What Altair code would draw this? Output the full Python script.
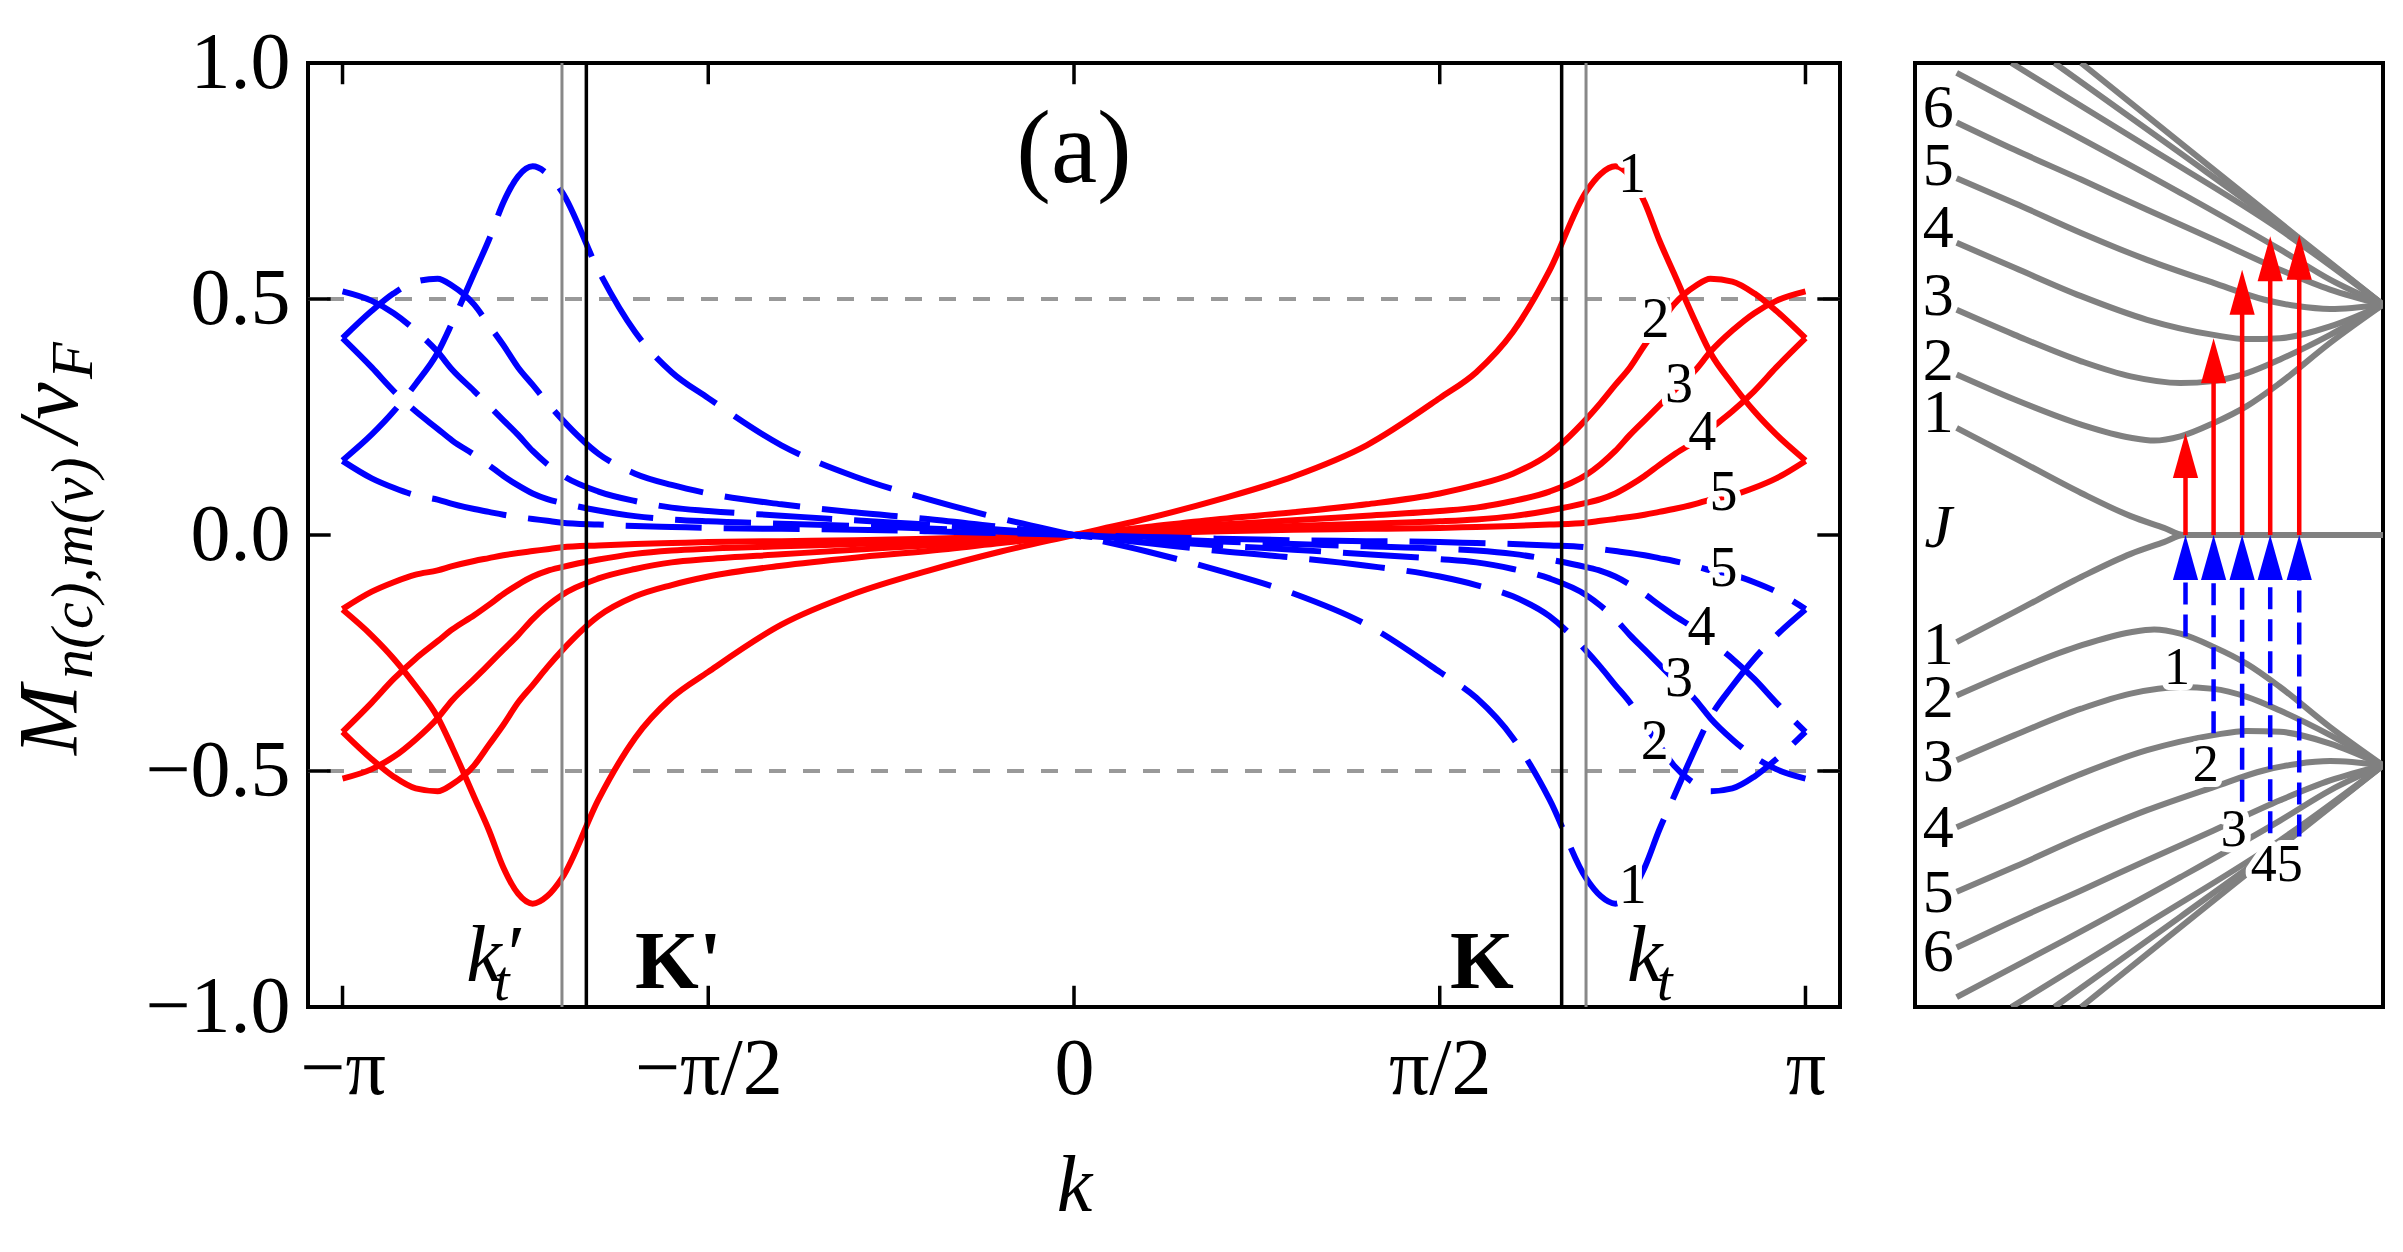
import altair as alt
import pandas as pd

FONT = "Liberation Serif"
RED = "#ff0000"
BLUE = "#0000ff"
GRAY = "#808080"

# ---------------- left panel: M_{n,m}(k)/v_F, k in units of pi ----------------
k_grid = [-1.0, -0.96, -0.93, -0.9, -0.87, -0.85, -0.82, -0.8, -0.78, -0.76, -0.74,
          -0.72, -0.7, -0.65, -0.6, -0.55, -0.5, -0.4, -0.3, -0.2, -0.1,
          0.0, 0.1, 0.2, 0.3, 0.4, 0.5, 0.55, 0.6, 0.65, 0.7, 0.72, 0.74, 0.76,
          0.78, 0.8, 0.82, 0.85, 0.87, 0.9, 0.93, 0.96, 1.0]

red_1 = [-0.158, -0.213, -0.262, -0.32, -0.386, -0.45, -0.555, -0.625, -0.705, -0.76, -0.781,
         -0.765, -0.727, -0.56, -0.43, -0.345, -0.29, -0.19, -0.124, -0.076, -0.035,
         0.0, 0.035, 0.076, 0.124, 0.19, 0.29, 0.345, 0.43, 0.56, 0.727, 0.765, 0.781, 0.76,
         0.705, 0.625, 0.555, 0.45, 0.386, 0.32, 0.262, 0.213, 0.158]
red_2 = [-0.417, -0.475, -0.512, -0.537, -0.543, -0.528, -0.488, -0.445, -0.402, -0.355, -0.318,
         -0.28, -0.245, -0.172, -0.13, -0.106, -0.088, -0.065, -0.048, -0.034, -0.017,
         0.0, 0.017, 0.034, 0.048, 0.065, 0.088, 0.106, 0.13, 0.172, 0.245, 0.28, 0.318, 0.355,
         0.402, 0.445, 0.488, 0.528, 0.543, 0.537, 0.512, 0.475, 0.417]
red_3 = [-0.516, -0.496, -0.47, -0.433, -0.388, -0.35, -0.305, -0.274, -0.243, -0.212, -0.178,
         -0.15, -0.127, -0.092, -0.072, -0.058, -0.051, -0.041, -0.031, -0.022, -0.011,
         0.0, 0.011, 0.022, 0.031, 0.041, 0.051, 0.058, 0.072, 0.092, 0.127, 0.15, 0.178, 0.212,
         0.243, 0.274, 0.305, 0.35, 0.388, 0.433, 0.47, 0.496, 0.516]
red_4 = [-0.417, -0.355, -0.305, -0.262, -0.225, -0.2, -0.17, -0.148, -0.125, -0.105, -0.088,
         -0.076, -0.068, -0.052, -0.04, -0.033, -0.029, -0.024, -0.019, -0.014, -0.007,
         0.0, 0.007, 0.014, 0.019, 0.024, 0.029, 0.033, 0.04, 0.052, 0.068, 0.076, 0.088, 0.105,
         0.125, 0.148, 0.17, 0.2, 0.225, 0.262, 0.305, 0.355, 0.417]
red_5 = [-0.157, -0.12, -0.1, -0.084, -0.075, -0.066, -0.055, -0.049, -0.043, -0.038, -0.034,
         -0.03, -0.026, -0.022, -0.019, -0.017, -0.015, -0.013, -0.011, -0.008, -0.004,
         0.0, 0.004, 0.008, 0.011, 0.013, 0.015, 0.017, 0.019, 0.022, 0.026, 0.03, 0.034, 0.038,
         0.043, 0.049, 0.055, 0.066, 0.075, 0.084, 0.1, 0.12, 0.157]

blue_1 = [0.158, 0.213, 0.262, 0.32, 0.386, 0.45, 0.555, 0.625, 0.705, 0.76, 0.781,
          0.765, 0.727, 0.56, 0.43, 0.345, 0.29, 0.19, 0.124, 0.076, 0.035,
          0.0, -0.035, -0.076, -0.124, -0.19, -0.29, -0.345, -0.43, -0.56, -0.727, -0.765, -0.781, -0.76,
          -0.705, -0.625, -0.555, -0.45, -0.386, -0.32, -0.262, -0.213, -0.158]
blue_2 = [0.417, 0.475, 0.512, 0.537, 0.543, 0.528, 0.488, 0.445, 0.402, 0.355, 0.318,
          0.28, 0.245, 0.172, 0.13, 0.106, 0.088, 0.065, 0.048, 0.034, 0.017,
          0.0, -0.017, -0.034, -0.048, -0.065, -0.088, -0.106, -0.13, -0.172, -0.245, -0.28, -0.318, -0.355,
          -0.402, -0.445, -0.488, -0.528, -0.543, -0.537, -0.512, -0.475, -0.417]
blue_3 = [0.516, 0.496, 0.47, 0.433, 0.388, 0.35, 0.305, 0.274, 0.243, 0.212, 0.178,
          0.15, 0.127, 0.092, 0.072, 0.058, 0.051, 0.041, 0.031, 0.022, 0.011,
          0.0, -0.011, -0.022, -0.031, -0.041, -0.051, -0.058, -0.072, -0.092, -0.127, -0.15, -0.178, -0.212,
          -0.243, -0.274, -0.305, -0.35, -0.388, -0.433, -0.47, -0.496, -0.516]
blue_4 = [0.417, 0.355, 0.305, 0.262, 0.225, 0.2, 0.17, 0.148, 0.125, 0.105, 0.088,
          0.076, 0.068, 0.052, 0.04, 0.033, 0.029, 0.024, 0.019, 0.014, 0.007,
          0.0, -0.007, -0.014, -0.019, -0.024, -0.029, -0.033, -0.04, -0.052, -0.068, -0.076, -0.088, -0.105,
          -0.125, -0.148, -0.17, -0.2, -0.225, -0.262, -0.305, -0.355, -0.417]
blue_5 = [0.157, 0.12, 0.1, 0.084, 0.075, 0.066, 0.055, 0.049, 0.043, 0.038, 0.034,
          0.03, 0.026, 0.022, 0.019, 0.017, 0.015, 0.013, 0.011, 0.008, 0.004,
          0.0, -0.004, -0.008, -0.011, -0.013, -0.015, -0.017, -0.019, -0.022, -0.026, -0.03, -0.034, -0.038,
          -0.043, -0.049, -0.055, -0.066, -0.075, -0.084, -0.1, -0.12, -0.157]

band_ids = ["1", "2", "3", "4", "5"]

# curve labels next to the right-hand branches
red_lab_k = [0.763, 0.795, 0.827, 0.859, 0.888]
red_lab_M = [0.763, 0.456, 0.318, 0.216, 0.088]
blue_lab_k = [0.764, 0.794, 0.827, 0.858, 0.888]
blue_lab_M = [-0.744, -0.438, -0.306, -0.197, -0.073]

tick_vals = [-1.0, -0.5, 0.0, 0.5, 1.0]
half_levels = [-0.5, 0.5]
dirac_k = [-2 / 3, 2 / 3]        # K' and K
turn_k = [-0.7, 0.7]             # k_t' and k_t
K_EDGE = 1.0472                  # half width of the k window (units of pi)

# ---------------- right panel: sketch of the level scheme ----------------
jx = [0.089, 0.213, 0.355, 0.461, 0.532, 0.574, 0.7, 0.85, 1.0]
j_up = [0.227, 0.163, 0.089, 0.04, 0.015, 0.0, 0.0, 0.0, 0.0]
j_dn = [-0.227, -0.163, -0.089, -0.04, -0.015, 0.0, 0.0, 0.0, 0.0]

lev_x = [
    [0.089, 0.213, 0.355, 0.461, 0.511, 0.567, 0.638, 0.709, 0.780, 0.887, 1.0],
    [0.089, 0.213, 0.355, 0.461, 0.567, 0.638, 0.709, 0.780, 0.887, 1.0],
    [0.089, 0.213, 0.355, 0.496, 0.638, 0.709, 0.780, 0.887, 1.0],
    [0.089, 0.213, 0.355, 0.496, 0.638, 0.745, 0.816, 0.887, 1.0],
    [0.089, 0.213, 0.355, 0.496, 0.638, 0.780, 0.887, 1.0],
    [0.089, 0.319, 0.567, 0.780, 0.887, 1.0],
    [0.206, 0.496, 0.780, 1.0],
    [0.298, 0.567, 0.816, 1.0],
    [0.355, 0.603, 0.816, 1.0],
]
lev_up = [
    [0.34, 0.287, 0.234, 0.206, 0.20, 0.209, 0.237, 0.273, 0.322, 0.407, 0.488],
    [0.477, 0.424, 0.368, 0.336, 0.322, 0.326, 0.343, 0.372, 0.424, 0.488],
    [0.619, 0.566, 0.506, 0.456, 0.424, 0.415, 0.417, 0.442, 0.488],
    [0.756, 0.703, 0.640, 0.583, 0.534, 0.499, 0.485, 0.479, 0.488],
    [0.874, 0.816, 0.753, 0.689, 0.626, 0.562, 0.520, 0.488],
    [0.979, 0.859, 0.725, 0.605, 0.541, 0.488],
    [1.0, 0.823, 0.647, 0.488],
    [1.0, 0.809, 0.629, 0.488],
    [1.0, 0.802, 0.633, 0.488],
]
lev_dn = [
    [-0.34, -0.287, -0.234, -0.206, -0.20, -0.209, -0.237, -0.273, -0.322, -0.407, -0.488],
    [-0.477, -0.424, -0.368, -0.336, -0.322, -0.326, -0.343, -0.372, -0.424, -0.488],
    [-0.619, -0.566, -0.506, -0.456, -0.424, -0.415, -0.417, -0.442, -0.488],
    [-0.756, -0.703, -0.640, -0.583, -0.534, -0.499, -0.485, -0.479, -0.488],
    [-0.874, -0.816, -0.753, -0.689, -0.626, -0.562, -0.520, -0.488],
    [-0.979, -0.859, -0.725, -0.605, -0.541, -0.488],
    [-1.0, -0.823, -0.647, -0.488],
    [-1.0, -0.809, -0.629, -0.488],
    [-1.0, -0.802, -0.633, -0.488],
]

arrow_x = [0.578, 0.638, 0.699, 0.759, 0.821]
arrow_tip = [0.216, 0.417, 0.562, 0.633, 0.636]
arrow_from = [-0.215, -0.420, -0.565, -0.632, -0.639]

side_up_txt = ["6", "5", "4", "3", "2", "1"]
side_up_E = [0.905, 0.781, 0.650, 0.506, 0.368, 0.259]
side_dn_txt = ["1", "2", "3", "4", "5", "6"]
side_dn_E = [-0.233, -0.346, -0.480, -0.621, -0.759, -0.883]
side_x = 0.0496
inner_txt = ["1", "2", "3", "45"]
inner_x = [0.560, 0.621, 0.681, 0.773]
inner_E = [-0.2825, -0.487, -0.625, -0.699]

# ---------------- tables ----------------
def long_table(names, series):
    rows = []
    for name, vals in zip(names, series):
        for k, v in zip(k_grid, vals):
            rows.append({"k": k, "M": v, "n": name})
    return pd.DataFrame(rows)

red_df = long_table(band_ids, [red_1, red_2, red_3, red_4, red_5])
blue_df = long_table(band_ids, [blue_1, blue_2, blue_3, blue_4, blue_5])
red_lab = pd.DataFrame({"k": red_lab_k, "M": red_lab_M, "t": band_ids})
blue_lab = pd.DataFrame({"k": blue_lab_k, "M": blue_lab_M, "t": band_ids})

xtick_df = pd.DataFrame(
    [{"k": v, "a": -1.0, "b": -0.955} for v in tick_vals]
    + [{"k": v, "a": 1.0, "b": 0.955} for v in tick_vals])
ytick_df = pd.DataFrame(
    [{"M": v, "a": -K_EDGE, "b": -K_EDGE + 0.031} for v in tick_vals]
    + [{"M": v, "a": K_EDGE, "b": K_EDGE - 0.031} for v in tick_vals])

xs = alt.Scale(domain=[-K_EDGE, K_EDGE], nice=False, zero=False)
ys = alt.Scale(domain=[-1.0, 1.0], nice=False, zero=False)

x_axis = alt.Axis(
    values=tick_vals,
    labelExpr="datum.value == -1 ? '−π' : datum.value == -0.5 ? '−π/2' : "
              "datum.value == 0 ? '0' : datum.value == 0.5 ? 'π/2' : 'π'",
    ticks=False, domain=False, grid=False, labelFlush=False, labelOverlap=False,
    labelFont=FONT, labelFontSize=80, labelColor="black", labelPadding=23,
    title="k", titleFont=FONT, titleFontSize=80, titleFontStyle="italic",
    titleFontWeight="normal", titleColor="black", titlePadding=38)
y_axis = alt.Axis(
    values=tick_vals,
    labelExpr="replace(format(datum.value, '.1f'), '-', '−')",
    ticks=False, domain=False, grid=False, labelFlush=False, labelOverlap=False,
    labelFont=FONT, labelFontSize=80, labelColor="black", labelPadding=18,
    title=None)

# every layer carries the same axis definition so the layered axes merge cleanly
X = lambda f: alt.X(f, scale=xs, axis=x_axis)
Y = lambda f: alt.Y(f, scale=ys, axis=y_axis)

half_lines = alt.Chart(pd.DataFrame({"M": half_levels})).mark_rule(
    color="#999999", strokeWidth=4, strokeDash=[17, 17]).encode(y=Y("M:Q"))

red_lines = alt.Chart(red_df).mark_line(
    color=RED, strokeWidth=6, interpolate="monotone", clip=True).encode(
    x=X("k:Q"), y=Y("M:Q"), detail="n:N")

blue_lines = alt.Chart(blue_df).mark_line(
    color=BLUE, strokeWidth=6, interpolate="monotone", strokeDash=[76, 22],
    strokeCap="butt", clip=True).encode(x=X("k:Q"), y=Y("M:Q"), detail="n:N")

def halo_labels(df, size):
    base = alt.Chart(df).encode(x=X("k:Q"), y=Y("M:Q"), text="t:N")
    halo = base.mark_text(font=FONT, fontSize=size, fill="white", stroke="white",
                          strokeWidth=12, strokeJoin="round", baseline="middle")
    ink = base.mark_text(font=FONT, fontSize=size, color="black", baseline="middle")
    return halo + ink

curve_labels = halo_labels(pd.concat([red_lab, blue_lab]), 56)

dirac_lines = alt.Chart(pd.DataFrame({"k": dirac_k})).mark_rule(
    color="black", strokeWidth=3.5).encode(x=X("k:Q"))
turn_lines = alt.Chart(pd.DataFrame({"k": turn_k})).mark_rule(
    color="#888888", strokeWidth=3).encode(x=X("k:Q"))

xticks = alt.Chart(xtick_df).mark_rule(color="black", strokeWidth=3.5).encode(
    x=X("k:Q"), y=Y("a:Q"), y2="b:Q")
yticks = alt.Chart(ytick_df).mark_rule(color="black", strokeWidth=3.5).encode(
    y=Y("M:Q"), x=X("a:Q"), x2="b:Q")

def note(text, k, M, size, style="normal", weight="normal", align="left",
         baseline="alphabetic"):
    return alt.Chart(pd.DataFrame({"k": [k], "M": [M]})).mark_text(
        text=text, font=FONT, fontSize=size, fontStyle=style, fontWeight=weight,
        align=align, baseline=baseline, color="black").encode(x=X("k:Q"), y=Y("M:Q"))

notes = [
    note("(a)", 0.0, 0.748, 104, align="center"),
    note("K'", -0.600, -0.959, 82, weight="bold"),
    note("K", 0.514, -0.959, 82, weight="bold"),
    note("k", -0.831, -0.945, 80, style="italic"),
    note("′", -0.774, -0.945, 80),
    note("t", -0.793, -0.985, 56, style="italic"),
    note("k", 0.756, -0.945, 80, style="italic"),
    note("t", 0.797, -0.985, 56, style="italic"),
]

one = pd.DataFrame({"a": [0]})

def ytitle(text, px, py, size):
    return alt.Chart(one).mark_text(
        text=text, angle=270, align="left", baseline="alphabetic", font=FONT,
        fontStyle="italic", fontSize=size, color="black").encode(
        x=alt.value(px), y=alt.value(py))

y_title = [
    ytitle("M", -231, 692, 84),
    ytitle("n(c),m(v)", -216, 616, 60),
    ytitle("/v", -231, 380, 84),
    ytitle("F", -216, 316, 60),
]

# keeps the page origin fixed relative to the plotting area
corner = alt.Chart(one).mark_point(size=1, opacity=0, filled=True).encode(
    x=alt.value(-305.5), y=alt.value(-60.5))

left = alt.layer(
    half_lines, red_lines, blue_lines, curve_labels, dirac_lines, turn_lines,
    xticks, yticks, *notes, *y_title, corner
).properties(width=1532, height=944)

# ---------------- right panel ----------------
rows = []
for xv, ev in zip(jx, j_up):
    rows.append({"x": xv, "E": ev, "c": "J+"})
for xv, ev in zip(jx, j_dn):
    rows.append({"x": xv, "E": ev, "c": "J-"})
for i, (xl, el) in enumerate(zip(lev_x, lev_up)):
    for xv, ev in zip(xl, el):
        rows.append({"x": xv, "E": ev, "c": f"u{i}"})
for i, (xl, el) in enumerate(zip(lev_x, lev_dn)):
    for xv, ev in zip(xl, el):
        rows.append({"x": xv, "E": ev, "c": f"d{i}"})
lev_df = pd.DataFrame(rows)

rxs = alt.Scale(domain=[0.0, 1.0], nice=False, zero=False)
rys = alt.Scale(domain=[-1.0, 1.0], nice=False, zero=False)
RX = lambda f: alt.X(f, scale=rxs, axis=None)
RY = lambda f: alt.Y(f, scale=rys, axis=None)

levels = alt.Chart(lev_df).mark_line(
    color=GRAY, strokeWidth=6, interpolate="monotone", clip=True).encode(
    x=RX("x:Q"), y=RY("E:Q"), detail="c:N")

arr_df = pd.DataFrame({"x": arrow_x, "tip": arrow_tip, "start": arrow_from})
HEAD = "M0,0L0.56,2L-0.56,2Z"   # tip at the anchor, 45 px long at size 2025

red_shafts = alt.Chart(arr_df).transform_calculate(
    zero="0", top="datum.tip - 0.06").mark_rule(color=RED, strokeWidth=4.5).encode(
    x=RX("x:Q"), y=RY("zero:Q"), y2="top:Q")
red_heads = alt.Chart(arr_df).mark_point(
    shape=HEAD, size=2025, filled=True, color=RED, opacity=1, strokeWidth=0).encode(
    x=RX("x:Q"), y=RY("tip:Q"))
blue_shafts = alt.Chart(arr_df).transform_calculate(
    top="-0.095").mark_rule(color=BLUE, strokeWidth=4.5, strokeDash=[22, 10],
                            strokeCap="butt").encode(
    x=RX("x:Q"), y=RY("start:Q"), y2="top:Q")
blue_heads = alt.Chart(arr_df).transform_calculate(zero="0").mark_point(
    shape=HEAD, size=2025, filled=True, color=BLUE, opacity=1, strokeWidth=0).encode(
    x=RX("x:Q"), y=RY("zero:Q"))

side_df = pd.DataFrame({"x": side_x, "E": side_up_E + side_dn_E,
                        "t": side_up_txt + side_dn_txt})
side_labels = alt.Chart(side_df).mark_text(
    font=FONT, fontSize=62, color="black", baseline="middle").encode(
    x=RX("x:Q"), y=RY("E:Q"), text="t:N")
j_label = alt.Chart(pd.DataFrame({"x": [side_x], "E": [0.014]})).mark_text(
    text="J", font=FONT, fontSize=62, fontStyle="italic", color="black",
    baseline="middle").encode(x=RX("x:Q"), y=RY("E:Q"))

inner_df = pd.DataFrame({"x": inner_x, "E": inner_E, "t": inner_txt})
inner_base = alt.Chart(inner_df).encode(x=RX("x:Q"), y=RY("E:Q"), text="t:N")
inner_halo = inner_base.mark_text(font=FONT, fontSize=52, fill="white", stroke="white",
                                  strokeWidth=12, strokeJoin="round", baseline="middle")
inner_ink = inner_base.mark_text(font=FONT, fontSize=52, color="black", baseline="middle")

right = alt.layer(
    levels, inner_halo, inner_ink, red_shafts, red_heads, blue_shafts, blue_heads,
    side_labels, j_label
).properties(width=468, height=944)

chart = alt.hconcat(left, right, spacing=69).properties(
    padding={"left": 0, "top": 0, "right": 0, "bottom": 0},
    background="white",
).configure_view(stroke="black", strokeWidth=4)

chart.save("out.html", embed_options={"renderer": "svg", "actions": False})
